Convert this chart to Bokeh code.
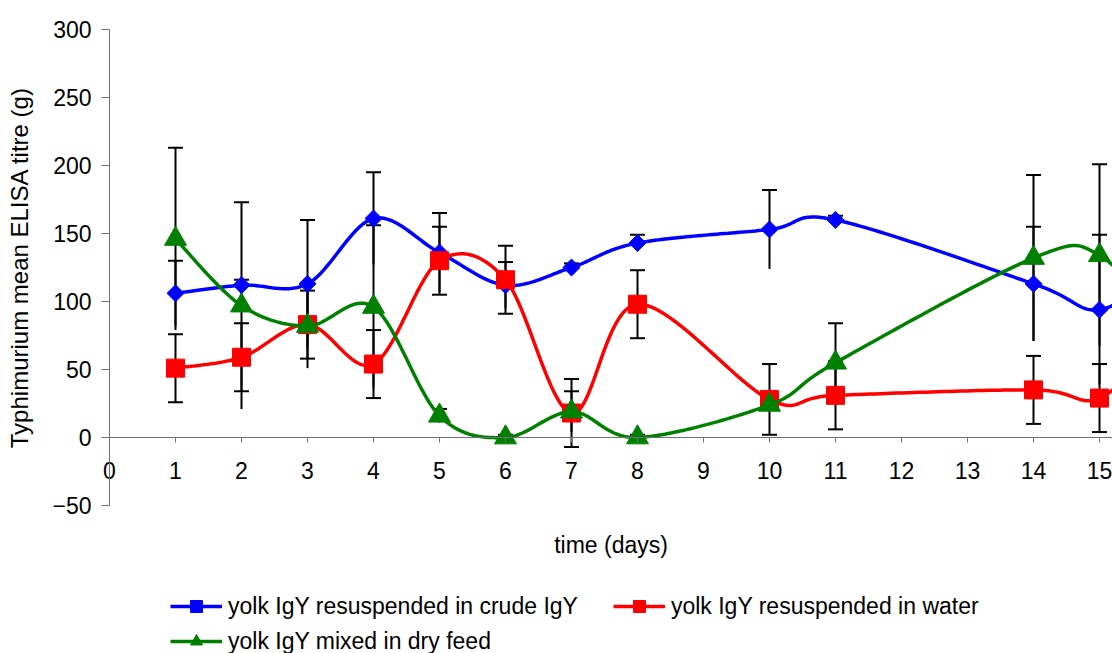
import numpy as np
from bokeh.plotting import figure
from bokeh.models import (Range1d, FixedTicker, Whisker, TeeHead, ColumnDataSource,
                          Legend, LegendItem)
from bokeh.embed import file_html
from bokeh.resources import INLINE

# ---- data ----
days = [1, 2, 3, 4, 5, 6, 7, 8, 10, 11, 14, 15]
crude = [106, 112, 113, 161, 136, 112, 125, 143, 153, 160, 113, 94]
crude_err = [24, 4, 47, 34, 29, 17, 3, 6, 29, 3, 42, 55]
water = [51, 59, 83, 54, 130, 116, 18, 98, 28, 31, 35, 29]
water_err = [25, 25, 25, 25, 25, 25, 25, 25, 26, 25, 25, 25]
feed = [146, 97, 82, 96, 16, 0, 19, 0, 24, 55, 132, 134]
feed_err = [67, 76, 31, 60, 5, 2, 15, 2, 3, 29, 61, 67]
# next sampling point, beyond the visible right edge (lines run off the chart)
next_day = 16
crude_next = 125
water_next = 75
feed_next = 80

x_ticks = list(range(0, 16))
y_ticks = [-50, 0, 50, 100, 150, 200, 250, 300]

labels = ["yolk IgY resuspended in crude IgY",
          "yolk IgY resuspended in water",
          "yolk IgY mixed in dry feed"]
colors = ["#0000FF", "#FF0000", "#008000"]

FONT = "Liberation Sans"
W, H = 1112, 653
AXIS_X = 109          # pixel column of the value axis
AXIS_TOP = 29         # pixel row of the 300 tick
PX_PER_DAY = 66.0
PX_PER_UNIT = 1.36


def smooth(xs, ys, n=40):
    """Excel-style smoothed line (cubic Bezier, tension 1/6)."""
    pts = np.column_stack([xs, ys]).astype(float)
    ext = np.vstack([pts[0], pts, pts[-1]])
    t = np.linspace(0, 1, n)[:, None]
    out = []
    for i in range(len(pts) - 1):
        p0 = ext[i + 1]
        p3 = ext[i + 2]
        c1 = p0 + (ext[i + 2] - ext[i]) / 6.0
        c2 = p3 - (ext[i + 3] - ext[i + 1]) / 6.0
        seg = ((1 - t) ** 3) * p0 + 3 * (1 - t) ** 2 * t * c1 + 3 * (1 - t) * t ** 2 * c2 + t ** 3 * p3
        out.append(seg if i == 0 else seg[1:])
    arr = np.vstack(out)
    return arr[:, 0], arr[:, 1]


x0 = -AXIS_X / PX_PER_DAY
x1 = (W - AXIS_X) / PX_PER_DAY
y1 = 300 + AXIS_TOP / PX_PER_UNIT
y0 = 300 - (H - AXIS_TOP) / PX_PER_UNIT
p = figure(width=W, height=H,
           x_range=Range1d(x0, x1), y_range=Range1d(y0, y1),
           output_backend="svg", toolbar_location=None,
           min_border_left=0, min_border_right=0,
           min_border_top=0, min_border_bottom=0)
p.outline_line_color = None
p.grid.visible = False
p.background_fill_color = "white"

# axes (both drawn inside the plot area, crossing at 0/0)
AX = "#707070"
p.xaxis.fixed_location = 0
p.yaxis.fixed_location = 0
p.xaxis.bounds = (0, x1)
p.yaxis.bounds = (-50, 300)
p.xaxis.ticker = FixedTicker(ticks=x_ticks)
p.yaxis.ticker = FixedTicker(ticks=y_ticks)
for ax in (p.xaxis, p.yaxis):
    ax.axis_line_color = AX
    ax.axis_line_width = 1
    ax.major_tick_line_color = AX
    ax.major_tick_in = 0
    ax.minor_tick_line_color = None
    ax.major_label_text_font = FONT
    ax.major_label_text_font_size = "23px"
    ax.major_label_text_color = "black"
    ax.axis_label_text_font = FONT
    ax.axis_label_text_font_style = "normal"
    ax.axis_label_text_color = "black"
p.xaxis.major_tick_out = 5
p.xaxis.major_label_standoff = 19
p.xaxis.axis_label = "time (days)"
p.xaxis.axis_label_text_font_size = "23px"
p.xaxis.axis_label_standoff = 50
p.yaxis.major_tick_out = 8
p.yaxis.major_label_standoff = 10
p.yaxis.axis_label = "Typhimurium mean ELISA titre (g)"
p.yaxis.axis_label_text_font_size = "24px"
p.yaxis.axis_label_standoff = 16

# error bars
def add_err(vals, errs, lower_cap):
    src = ColumnDataSource(dict(x=days,
                                upper=[v + e for v, e in zip(vals, errs)],
                                lower=[v - e for v, e in zip(vals, errs)]))
    w = Whisker(base="x", upper="upper", lower="lower", source=src,
                line_color="black", line_width=2,
                upper_head=TeeHead(size=15, line_color="black", line_width=2),
                lower_head=TeeHead(size=15, line_color="black", line_width=2) if lower_cap else None)
    p.add_layout(w)

add_err(crude, crude_err, False)
add_err(water, water_err, True)
add_err(feed, feed_err, False)

series = [
    (crude, crude_next, dict(marker="square", angle=np.pi / 4, size=12)),
    (water, water_next, dict(marker="square", size=18)),
    (feed, feed_next, dict(marker="triangle", size=22)),
]
items = []
for (vals, nxt, mk), col, lab in zip(series, colors, labels):
    sx, sy = smooth(days + [next_day], vals + [nxt])
    lr = p.line(sx, sy, line_color=col, line_width=3.5)
    mr = p.scatter(days, vals, fill_color=col, line_color=col, **mk)
    items.append(LegendItem(label=lab, renderers=[lr, mr]))

common = dict(orientation="horizontal", padding=0, margin=0, border_line_color=None,
              background_fill_alpha=0, glyph_width=52, glyph_height=30,
              label_standoff=6, label_text_font=FONT, label_text_font_size="23px",
              label_text_color="black", label_height=22)
leg1 = Legend(items=items[:2], location=(170, 32), spacing=35, **common)
leg2 = Legend(items=items[2:], location=(170, -3), spacing=15, **common)
p.add_layout(leg1)
p.add_layout(leg2)

open("out.html", "w").write(file_html(p, INLINE))
